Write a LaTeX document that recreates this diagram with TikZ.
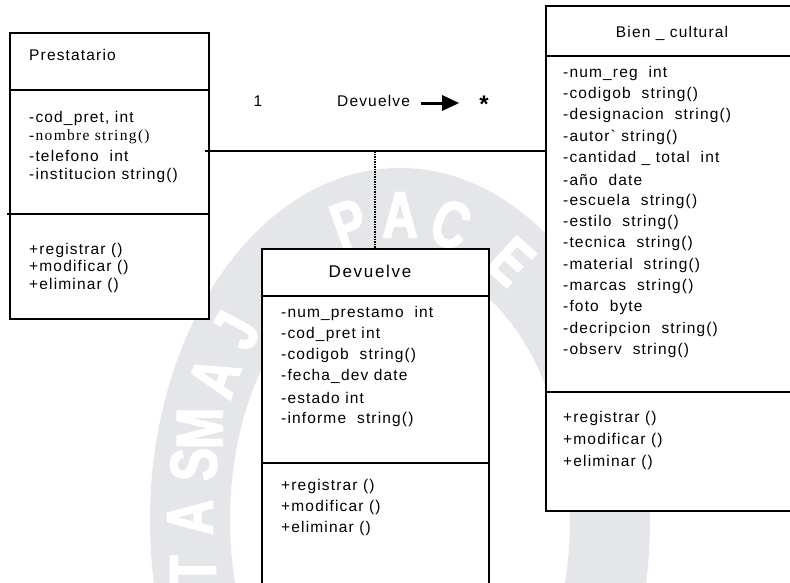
\documentclass[tikz,border=0pt]{standalone}
\usepackage{fontspec}
\setmainfont{Liberation Sans}
\newfontfamily\umlsans[LetterSpace=7.5]{Liberation Sans}
\newfontfamily\umlwide[LetterSpace=10]{Liberation Sans}
\newfontfamily\umlserif[LetterSpace=8.5]{Liberation Serif}
\newfontfamily\sealfont[FakeStretch=0.75, FakeBold=2]{Liberation Sans}
\usetikzlibrary{arrows.meta}
\definecolor{sealgray}{RGB}{229,230,233}

\begin{document}
\begin{tikzpicture}[x=1pt,y=-1pt,
  umlbox/.style={draw, line width=1.8pt, fill=white, rectangle, inner sep=0, anchor=north west},
  rule/.style={line width=1.8pt},
  txt/.style={inner sep=0, anchor=west, font=\umlsans\fontsize{15.5}{18}\selectfont},
  titletxt/.style={inner sep=0, font=\umlsans\fontsize{15.5}{18}\selectfont},
  sealletter/.style={inner sep=0, text depth=0pt, text=white, font=\sealfont\bfseries\fontsize{66}{66}\selectfont},
]
\clip (0,0) rectangle (790,582);
\fill[white] (0,0) rectangle (790,582);

% university seal in the background
\fill[sealgray, even odd rule]
  (400,520) ellipse [x radius=250, y radius=352]
  (400,520) ellipse [x radius=170, y radius=260];
\foreach \l/\t [count=\k] in {T/170.5, A/180.5, S/190.5, M/197.5, A/208, J/218.5, P/256, A/270, C/284, E/302} {
  \pgfmathsetmacro\rot{atan2(-sin(\t)/305, cos(\t)/210)-90}
  \node[sealletter, rotate=\rot] (seal-\k) at ({400+210*cos(\t)}, {520+305*sin(\t)}) {\l};
}

% class boxes
\node[umlbox, minimum width=199pt, minimum height=286pt] (pres) at (9,32) {};
\node[umlbox, minimum width=227pt, minimum height=360pt] (dev) at (261,248) {};
\node[umlbox, minimum width=260pt, minimum height=505pt] (bien) at (545,5) {};

% compartment rules
\draw[rule] (pres.west |- 0,90) -- (pres.east |- 0,90);
\draw[rule] (7,214) -- (pres.east |- 0,214);
\draw[rule] (dev.west |- 0,296) -- (dev.east |- 0,296);
\draw[rule] (dev.west |- 0,463) -- (dev.east |- 0,463);
\draw[rule] (bien.west |- 0,56) -- (bien.east |- 0,56);
\draw[rule] (bien.west |- 0,392) -- (bien.east |- 0,392);

% association and association class
\coordinate (lk) at (375,151);
\draw[rule] ([xshift=-5pt]pres.east |- lk) -- (bien.west |- lk);
\draw[line width=1.5pt, dash pattern=on 1.5pt off 1pt] (lk) -- (dev.north -| lk);

\node[txt, anchor=center] (mult1) at (258,101) {1};
\node[txt] (assocname) at (337,101) {Devuelve};
\draw[line width=3pt, -{Triangle[length=17pt,width=15pt]}] ([shift={(11,2)}]assocname.east) -- ++(38,0);
\node[inner sep=0, font=\bfseries\fontsize{24}{24}\selectfont] (multmany) at (484,104) {*};

% Prestatario
\node[titletxt, anchor=west] (ptitle) at (29,55) {Prestatario};
\foreach \s [count=\i from 0] in {{-cod\_pret, int}, {\umlserif -nombre string()}, {-telefono\ \ int}, {-institucion string()}}
  \node[txt] (pa-\i) at (29, 118+19*\i) {\s};
\foreach \s [count=\i from 0] in {{+registrar ()}, {+modificar ()}, {+eliminar ()}}
  \node[txt] (pm-\i) at (29, 250+17.5*\i) {\s};

% Devuelve
\node[titletxt, font=\umlwide\fontsize{17}{18}\selectfont] (dtitle) at (370,271) {Devuelve};
\foreach \s [count=\i from 0] in {{-num\_prestamo\ \ int}, {-cod\_pret int}, {-codigob\ \ string()}, {-fecha\_dev date}, {-estado int}, {-informe\ \ string()}}
  \node[txt] (da-\i) at (281, 313+21.3*\i) {\s};
\foreach \s [count=\i from 0] in {{+registrar ()}, {+modificar ()}, {+eliminar ()}}
  \node[txt] (dm-\i) at (281, 486+21*\i) {\s};

% Bien_cultural
\node[titletxt] (btitle) at (672,33) {Bien \_ cultural};
\foreach \s [count=\i from 0] in {{-num\_reg\ \ int}, {-codigob\ \ string()}, {-designacion\ \ string()}, {-autor` string()}, {-cantidad \_ total\ \ int}, {-año\ \ date}, {-escuela\ \ string()}, {-estilo\ \ string()}, {-tecnica\ \ string()}, {-material\ \ string()}, {-marcas\ \ string()}, {-foto\ \ byte}, {-decripcion\ \ string()}, {-observ\ \ string()}}
  \node[txt] (ba-\i) at (563, 73+21.35*\i) {\s};
\foreach \s [count=\i from 0] in {{+registrar ()}, {+modificar ()}, {+eliminar ()}}
  \node[txt] (bm-\i) at (563, 418+22*\i) {\s};
\end{tikzpicture}
\end{document}
